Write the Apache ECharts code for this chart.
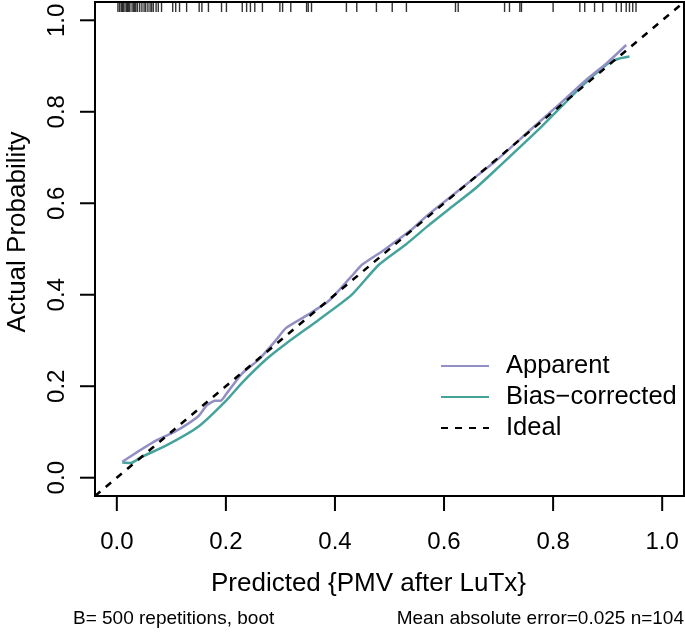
<!DOCTYPE html>
<html>
<head>
<meta charset="utf-8">
<script src="https://cdn.jsdelivr.net/npm/echarts@6/dist/echarts.min.js"></script>
<style>html,body{margin:0;padding:0;background:#fff}#c{width:685px;height:635px}</style>
</head>
<body>
<div id="c"></div>
<script>
// Tick labels
var tickValues = [0, 0.2, 0.4, 0.6, 0.8, 1.0];
// Apparent calibration curve (predicted, actual)
var apparentX = [0.01,0.04,0.07,0.10,0.12,0.15,0.165,0.18,0.19,0.20,0.23,0.26,0.29,0.31,0.35,0.39,0.43,0.45,0.49,0.54,0.57,0.61,0.65,0.70,0.757,0.81,0.86,0.90,0.934];
var apparentY = [0.035,0.058,0.08,0.097,0.11,0.135,0.158,0.168,0.168,0.182,0.228,0.258,0.298,0.327,0.356,0.388,0.44,0.466,0.498,0.542,0.574,0.612,0.65,0.698,0.759,0.815,0.869,0.908,0.946];
// Bias-corrected calibration curve
var biasX = [0.01,0.025,0.045,0.09,0.15,0.20,0.23,0.275,0.31,0.37,0.43,0.48,0.53,0.57,0.61,0.66,0.70,0.775,0.85,0.90,0.92,0.94];
var biasY = [0.033,0.032,0.045,0.07,0.112,0.168,0.208,0.26,0.293,0.345,0.399,0.465,0.51,0.55,0.588,0.635,0.679,0.763,0.853,0.905,0.916,0.921];
// Ideal line endpoints
var idealX = [-0.04, 1.04];
var idealY = [-0.04, 1.04];
// Rug: distribution of predicted values
var rugX = [0.002,0.005,0.008,0.010,0.012,0.015,0.018,0.02,0.022,0.024,0.028,0.031,0.033,0.035,0.038,0.042,0.046,0.05,0.053,0.057,0.061,0.064,
  0.067,0.072,0.076,0.082,0.1025,0.108,0.115,0.128,0.151,0.156,0.168,0.192,0.201,
  0.23,0.238,0.245,0.253,0.267,0.299,0.304,0.319,0.348,0.351,0.357,0.421,0.44,0.476,
  0.505,0.531,0.621,0.626,0.711,0.72,0.739,0.742,0.8,0.849,0.858,0.876,0.891,
  0.916,0.925,0.934,0.94,0.946,0.952];

var seriesNames = ['Apparent', 'Bias\u2212corrected', 'Ideal'];
var subLeft = 'B= 500 repetitions, boot';
var subRight = 'Mean absolute error=0.025 n=104';

function zip(a, b) { return a.map(function (v, i) { return [v, b[i]]; }); }

var FONT = '"Liberation Sans", Arial, Helvetica, sans-serif';
var AXMIN = -0.04, AXMAX = 1.04, TICKLEN = 15;
var chart = echarts.init(document.getElementById('c'), null, {renderer: 'canvas'});
function makeAxis(extra) {
  var ax = {
    type: 'value', min: AXMIN, max: AXMAX,
    splitLine: {show: false},
    axisLine: {show: true, onZero: false, lineStyle: {color: '#000', width: 2}},
    axisTick: {show: false},
    axisLabel: {show: true, customValues: tickValues, color: '#000', fontSize: 24, fontFamily: FONT,
      formatter: function (v) { return v.toFixed(1); }},
    nameMoveOverlap: false
  };
  for (var k in extra) {
    if (typeof extra[k] === 'object' && ax[k]) { for (var j in extra[k]) ax[k][j] = extra[k][j]; }
    else ax[k] = extra[k];
  }
  return ax;
}
function tickSeries(isX) {
  return {
    type: 'custom', silent: true, clip: false, z: 5,
    data: tickValues.map(function (v) { return [v]; }),
    encode: isX ? {x: 0} : {y: 0},
    renderItem: function (params, api) {
      var v = api.value(0);
      var p = isX ? api.coord([v, AXMIN]) : api.coord([AXMIN, v]);
      var shape = isX ? {x1: p[0], y1: p[1], x2: p[0], y2: p[1] + TICKLEN}
                      : {x1: p[0], y1: p[1], x2: p[0] - TICKLEN, y2: p[1]};
      return {type: 'line', shape: shape, style: {stroke: '#000', lineWidth: 2}};
    }
  };
}
chart.setOption({
  animation: false,
  backgroundColor: '#fff',
  textStyle: {fontFamily: FONT},
  grid: {left: 95, right: 1, top: 2, bottom: 139, show: true, borderColor: '#000', borderWidth: 2,
    backgroundColor: 'transparent', outerBoundsMode: 'none', containLabel: false},
  xAxis: makeAxis({
    name: 'Predicted {PMV after LuTx}', nameLocation: 'middle', nameGap: 75,
    nameTextStyle: {color: '#000', fontSize: 26, fontFamily: FONT, padding: [0, 42, 0, 0]},
    axisLabel: {margin: 34}
  }),
  yAxis: makeAxis({
    name: 'Actual Probability', nameLocation: 'middle', nameGap: 64, nameRotate: 90,
    nameTextStyle: {color: '#000', fontSize: 26, fontFamily: FONT, padding: [0, 0, 0, 34]},
    axisLabel: {margin: 26, rotate: 90}
  }),
  legend: {
    orient: 'vertical', left: 435, top: 348, itemWidth: 48, itemHeight: 25, itemGap: 5,
    data: seriesNames,
    itemStyle: {opacity: 0},
    textStyle: {fontSize: 25.5, color: '#000', fontFamily: FONT, padding: [0, 0, 0, 12]}
  },
  graphic: [
    {type: 'text', left: 73, top: 609, style: {text: subLeft, fontSize: 19, fontFamily: FONT, fill: '#000'}},
    {type: 'text', right: 1, top: 609, style: {text: subRight, fontSize: 19, fontFamily: FONT, fill: '#000'}}
  ],
  series: [
    {name: seriesNames[0], type: 'line', data: zip(apparentX, apparentY), showSymbol: false, symbol: 'none',
      smooth: 0.2, color: '#928fc4', lineStyle: {width: 2.5, color: '#928fc4'}, z: 3},
    {name: seriesNames[1], type: 'line', data: zip(biasX, biasY), showSymbol: false, symbol: 'none',
      smooth: 0.2, color: '#46a39c', lineStyle: {width: 2.5, color: '#46a39c'}, z: 2},
    {name: seriesNames[2], type: 'line', data: zip(idealX, idealY), showSymbol: false, symbol: 'none',
      color: '#000', lineStyle: {width: 2.5, color: '#000', type: [7, 7]}, z: 4},
    {name: 'rug', type: 'scatter', data: rugX.map(function (v) { return [v, AXMAX]; }),
      symbol: 'rect', symbolSize: [1.4, 10], symbolOffset: [0, 5], itemStyle: {color: '#000'}, silent: true},
    tickSeries(true),
    tickSeries(false)
  ]
});
</script>
</body>
</html>
